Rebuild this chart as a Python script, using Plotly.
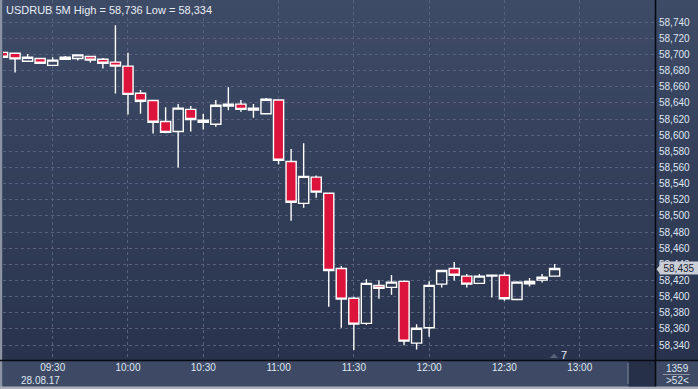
import plotly.graph_objects as go

# ---------------- data ----------------
times = [
    "2017-08-28 09:10", "2017-08-28 09:15", "2017-08-28 09:20", "2017-08-28 09:25",
    "2017-08-28 09:30", "2017-08-28 09:35", "2017-08-28 09:40", "2017-08-28 09:45",
    "2017-08-28 09:50", "2017-08-28 09:55", "2017-08-28 10:00", "2017-08-28 10:05",
    "2017-08-28 10:10", "2017-08-28 10:15", "2017-08-28 10:20", "2017-08-28 10:25",
    "2017-08-28 10:30", "2017-08-28 10:35", "2017-08-28 10:40", "2017-08-28 10:45",
    "2017-08-28 10:50", "2017-08-28 10:55", "2017-08-28 11:00", "2017-08-28 11:05",
    "2017-08-28 11:10", "2017-08-28 11:15", "2017-08-28 11:20", "2017-08-28 11:25",
    "2017-08-28 11:30", "2017-08-28 11:35", "2017-08-28 11:40", "2017-08-28 11:45",
    "2017-08-28 11:50", "2017-08-28 11:55", "2017-08-28 12:00", "2017-08-28 12:05",
    "2017-08-28 12:10", "2017-08-28 12:15", "2017-08-28 12:20", "2017-08-28 12:25",
    "2017-08-28 12:30", "2017-08-28 12:35", "2017-08-28 12:40", "2017-08-28 12:45",
    "2017-08-28 12:50",
]
opens = [
    58702.5, 58701.5, 58691.5, 58695.0, 58686.5, 58694.0, 58695.0, 58697.5,
    58694.0, 58690.5, 58685.5, 58652.0, 58643.0, 58617.0, 58604.5, 58632.0,
    58618.5, 58613.5, 58638.5, 58638.5, 58633.5, 58626.5, 58643.5, 58567.5,
    58515.5, 58548.0, 58528.0, 58435.0, 58398.0, 58367.0, 58414.0, 58411.5,
    58419.0, 58342.5, 58361.5, 58415.5, 58435.0, 58425.5, 58416.5, 58425.5,
    58426.5, 58396.5, 58416.0, 58420.5, 58425.5,
]
highs = [
    58703.0, 58702.0, 58700.5, 58695.5, 58696.5, 58698.0, 58699.5, 58698.0,
    58695.5, 58736.0, 58702.0, 58656.0, 58643.5, 58634.5, 58638.5, 58636.0,
    58626.5, 58643.5, 58659.5, 58643.5, 58638.5, 58646.0, 58644.0, 58583.0,
    58590.0, 58550.0, 58528.5, 58438.0, 58400.0, 58421.5, 58420.5, 58427.0,
    58420.5, 58366.0, 58419.0, 58433.5, 58443.0, 58428.0, 58428.0, 58427.0,
    58430.0, 58419.0, 58423.0, 58428.0, 58440.5,
]
lows = [
    58696.0, 58677.5, 58691.5, 58689.0, 58686.5, 58693.0, 58692.5, 58690.0,
    58682.5, 58651.5, 58625.5, 58626.5, 58602.0, 58602.5, 58560.0, 58604.5,
    58607.0, 58610.5, 58631.0, 58629.0, 58621.5, 58626.5, 58564.0, 58494.0,
    58510.0, 58522.5, 58387.5, 58361.5, 58334.0, 58365.0, 58397.5, 58402.5,
    58340.0, 58334.5, 58350.5, 58411.5, 58420.0, 58411.5, 58416.5, 58399.0,
    58395.0, 58396.5, 58412.5, 58417.5, 58425.5,
]
closes = [
    58696.5, 58694.5, 58696.5, 58689.0, 58693.0, 58696.5, 58699.5, 58693.0,
    58689.0, 58685.5, 58650.5, 58642.0, 58616.0, 58603.5, 58633.5, 58619.5,
    58616.0, 58637.0, 58636.0, 58632.0, 58631.0, 58644.5, 58569.0, 58517.0,
    58549.0, 58529.5, 58432.5, 58397.0, 58366.0, 58416.5, 58410.5, 58418.0,
    58345.0, 58361.0, 58414.0, 58432.5, 58426.5, 58415.5, 58425.5, 58426.5,
    58397.5, 58418.0, 58419.0, 58424.0, 58435.0,
]

y_ticks = [58340, 58360, 58380, 58400, 58420, 58440, 58460, 58480, 58500, 58520,
           58540, 58560, 58580, 58600, 58620, 58640, 58660, 58680, 58700, 58720, 58740]
y_tick_labels = ["58,340", "58,360", "58,380", "58,400", "58,420", "58,440", "58,460",
                 "58,480", "58,500", "58,520", "58,540", "58,560", "58,580", "58,600",
                 "58,620", "58,640", "58,660", "58,680", "58,700", "58,720", "58,740"]
x_ticks = ["2017-08-28 09:30", "2017-08-28 10:00", "2017-08-28 10:30", "2017-08-28 11:00",
           "2017-08-28 11:30", "2017-08-28 12:00", "2017-08-28 12:30", "2017-08-28 13:00"]
x_tick_labels = ["09:30", "10:00", "10:30", "11:00", "11:30", "12:00", "12:30", "13:00"]
date_label = "28.08.17"
title_text = "USDRUB 5M High = 58,736 Low = 58,334"
last_price = 58435
last_label = "58,435"
corner_top = "1359"
corner_bottom = ">52<"
marker_label = "7"

# ---------------- layout geometry (pixels) ----------------
W, H = 698, 389
ML, MR, MT, MB = 3, 43, 0, 29
PW, PH = W - ML - MR, H - MT - MB


def px(x):
    return (x - ML) / PW


def py(y):
    return (H - MB - y) / PH


FONT = "Liberation Sans, Arial, sans-serif"
TXT = "#dfe6f2"

fig = go.Figure(go.Candlestick(
    x=times, open=opens, high=highs, low=lows, close=closes,
    increasing=dict(line=dict(color="#ffffff", width=1.4), fillcolor="rgba(0,0,0,0)"),
    decreasing=dict(line=dict(color="#ffffff", width=1.4), fillcolor="#dc143c"),
    whiskerwidth=0, hoverinfo="skip",
))

shapes = []
# vertical gradient background for chart + right axis area
top_c = (62, 75, 103)
bot_c = (41, 51, 77)
n = 40
for i in range(n):
    t = (i + 0.5) / n
    c = tuple(round(top_c[k] + (bot_c[k] - top_c[k]) * t) for k in range(3))
    shapes.append(dict(type="rect", xref="paper", yref="paper", layer="below",
                       x0=px(0), x1=px(W), y0=py(360 * (i + 1) / n), y1=py(360 * i / n),
                       fillcolor="rgb(%d,%d,%d)" % c, line=dict(width=0)))
# left border strip
shapes.append(dict(type="rect", xref="paper", yref="paper", x0=px(0), x1=px(2.2),
                   y0=py(389), y1=py(0), fillcolor="#8c94a3", line=dict(width=0)))
# bottom border strip
shapes.append(dict(type="rect", xref="paper", yref="paper", x0=px(0), x1=px(W),
                   y0=py(389), y1=py(386.5), fillcolor="#a9b0bb", line=dict(width=0)))
# dark box in x-axis row
shapes.append(dict(type="rect", xref="paper", yref="paper", x0=px(628.5), x1=px(655),
                   y0=py(386.5), y1=py(361), fillcolor="#263049", line=dict(width=0)))
shapes.append(dict(type="line", xref="paper", yref="paper", x0=px(628), x1=px(628),
                   y0=py(384), y1=py(363), line=dict(color="#7d8597", width=1)))
# axis frame lines
shapes.append(dict(type="line", xref="paper", yref="paper", x0=px(0), x1=px(W),
                   y0=py(360.5), y1=py(360.5), line=dict(color="#070a12", width=1.6)))
shapes.append(dict(type="line", xref="paper", yref="paper", x0=px(655.5), x1=px(655.5),
                   y0=py(386.5), y1=py(0), line=dict(color="#070a12", width=1.6)))
# corner separator
shapes.append(dict(type="line", xref="paper", yref="paper", x0=px(663), x1=px(690),
                   y0=py(374.5), y1=py(374.5), line=dict(color="#8b93a3", width=1)))
# price label arrow
ly = 269.3
shapes.append(dict(type="path", xref="paper", yref="paper",
                   path="M %f %f L %f %f L %f %f Z" % (px(656.5), py(ly), px(661), py(ly - 5.5),
                                                       px(661), py(ly + 5.5)),
                   fillcolor="#c9ced6", line=dict(width=0)))
# small triangle marker
shapes.append(dict(type="path", xref="paper", yref="paper",
                   path="M %f %f L %f %f L %f %f Z" % (px(550), py(358), px(558), py(358),
                                                       px(554), py(353.5)),
                   fillcolor="#59647a", line=dict(width=0)))

annotations = [
    dict(text=title_text, xref="paper", yref="paper", x=px(4), y=py(2), xanchor="left",
         yanchor="top", showarrow=False, font=dict(family=FONT, size=11, color="#e8edf5")),
    dict(text=date_label, xref="paper", yref="paper", x=px(19), y=py(380), xanchor="left",
         yanchor="middle", showarrow=False, font=dict(family=FONT, size=10, color=TXT)),
    dict(text=corner_top, xref="paper", yref="paper", x=px(677), y=py(368), xanchor="center",
         yanchor="middle", showarrow=False, font=dict(family=FONT, size=10, color=TXT)),
    dict(text=corner_bottom, xref="paper", yref="paper", x=px(677), y=py(380.5), xanchor="center",
         yanchor="middle", showarrow=False, font=dict(family=FONT, size=10, color=TXT)),
    dict(text=marker_label, xref="paper", yref="paper", x=px(563.5), y=py(355), xanchor="center",
         yanchor="middle", showarrow=False, font=dict(family=FONT, size=11, color="#e8edf5")),
    dict(text=last_label, xref="paper", yref="y", x=px(679), y=last_price, xanchor="center",
         yanchor="middle", showarrow=False, bgcolor="#c9ced6", width=36, height=10, borderpad=1,
         font=dict(family=FONT, size=10, color="#1b2233")),
]

fig.update_layout(
    width=W, height=H,
    margin=dict(l=ML, r=MR, t=MT, b=MB, pad=0),
    paper_bgcolor="#3e4a65", plot_bgcolor="rgba(0,0,0,0)",
    showlegend=False, boxgap=0.12, boxgroupgap=0.08, hovermode=False,
    font=dict(family=FONT, size=10, color=TXT),
    shapes=shapes, annotations=annotations,
    xaxis=dict(type="date", range=["2017-08-28 09:10:12", "2017-08-28 13:30"],
               rangeslider=dict(visible=False), tickmode="array", tickvals=x_ticks,
               ticktext=x_tick_labels, showgrid=True, gridcolor="#56627d", griddash="3px,3px",
               gridwidth=1, showline=False, ticks="", zeroline=False, fixedrange=True,
               tickfont=dict(family=FONT, size=10, color=TXT)),
    yaxis=dict(side="right", range=[58321.6, 58767.4], tickmode="array", tickvals=y_ticks,
               ticktext=y_tick_labels, showgrid=True, gridcolor="#56627d", griddash="3px,3px",
               gridwidth=1, showline=False, ticks="", zeroline=False, fixedrange=True,
               ticklabelstandoff=3, tickfont=dict(family=FONT, size=10, color=TXT)),
)

fig.write_html("out.html")
